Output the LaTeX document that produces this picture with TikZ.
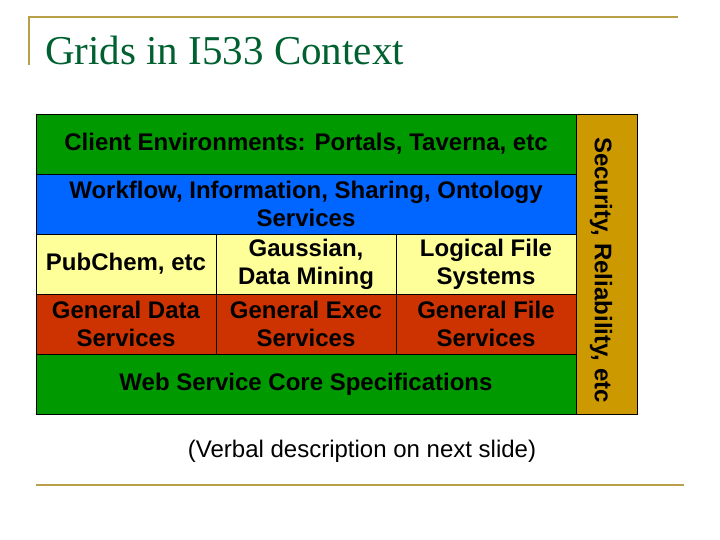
\documentclass[tikz,border=0pt]{standalone}
\usepackage{fontspec}
\setmainfont{Liberation Sans}
\newfontfamily\titlefont{Liberation Serif}
\definecolor{layergreen}{RGB}{0,153,0}
\definecolor{layerblue}{RGB}{0,102,255}
\definecolor{cellyellow}{RGB}{255,255,153}
\definecolor{cellred}{RGB}{204,51,0}
\definecolor{sidegold}{RGB}{204,153,0}
\definecolor{rulegold}{RGB}{184,160,72}
\definecolor{titlegreen}{RGB}{0,96,48}

\begin{document}
\begin{tikzpicture}[x=1pt, y=-1pt,
    cell/.style={draw=black, line width=0.8pt, inner sep=0pt, align=center,
        font=\bfseries\fontsize{24}{28}\selectfont, minimum height=60pt},
    wide/.style={cell, minimum width=540pt},
    narrow/.style={cell, minimum width=180pt}]

    \useasboundingbox (0,0) rectangle (720,540);

    % Slide rules and title
    \draw[rulegold, line width=2.5pt] (29,65) -- (29,17) -- (678,17);
    \draw[rulegold, line width=2.5pt] (36,485) -- (684,485);
    \node[anchor=base west, text=titlegreen, inner sep=0pt,
        font=\titlefont\fontsize{41}{41}\selectfont] (title) at (45,65) {Grids in I533 Context};

    % Layers
    \node[wide, fill=layergreen] (client) at (306,144) {Client Environments: Portals, Taverna, etc};
    \node[wide, fill=layerblue] (workflow) at (306,204) {Workflow, Information, Sharing, Ontology\\Services};

    \node[narrow, fill=cellyellow] (pubchem) at (126,264) {PubChem, etc};
    \node[narrow, fill=cellyellow] (gaussian) at (306,264) {Gaussian,\\Data Mining};
    \node[narrow, fill=cellyellow] (logical) at (486,264) {Logical File\\Systems};

    \node[narrow, fill=cellred] (gendata) at (126,324) {General Data\\Services};
    \node[narrow, fill=cellred] (genexec) at (306,324) {General Exec\\Services};
    \node[narrow, fill=cellred] (genfile) at (486,324) {General File\\Services};

    \node[wide, fill=layergreen] (core) at (306,384) {Web Service Core Specifications};

    % Side column
    \node[cell, fill=sidegold, minimum width=61pt, minimum height=300pt] (security) at (606.5,264) {};
    \node[cell, draw=none, rotate=-90] (securitytext) at (601,270) {Security, Reliability, etc};

    \node[font=\fontsize{24}{28}\selectfont] (verbal) at (362,451) {(Verbal description on next slide)};

\end{tikzpicture}
\end{document}
